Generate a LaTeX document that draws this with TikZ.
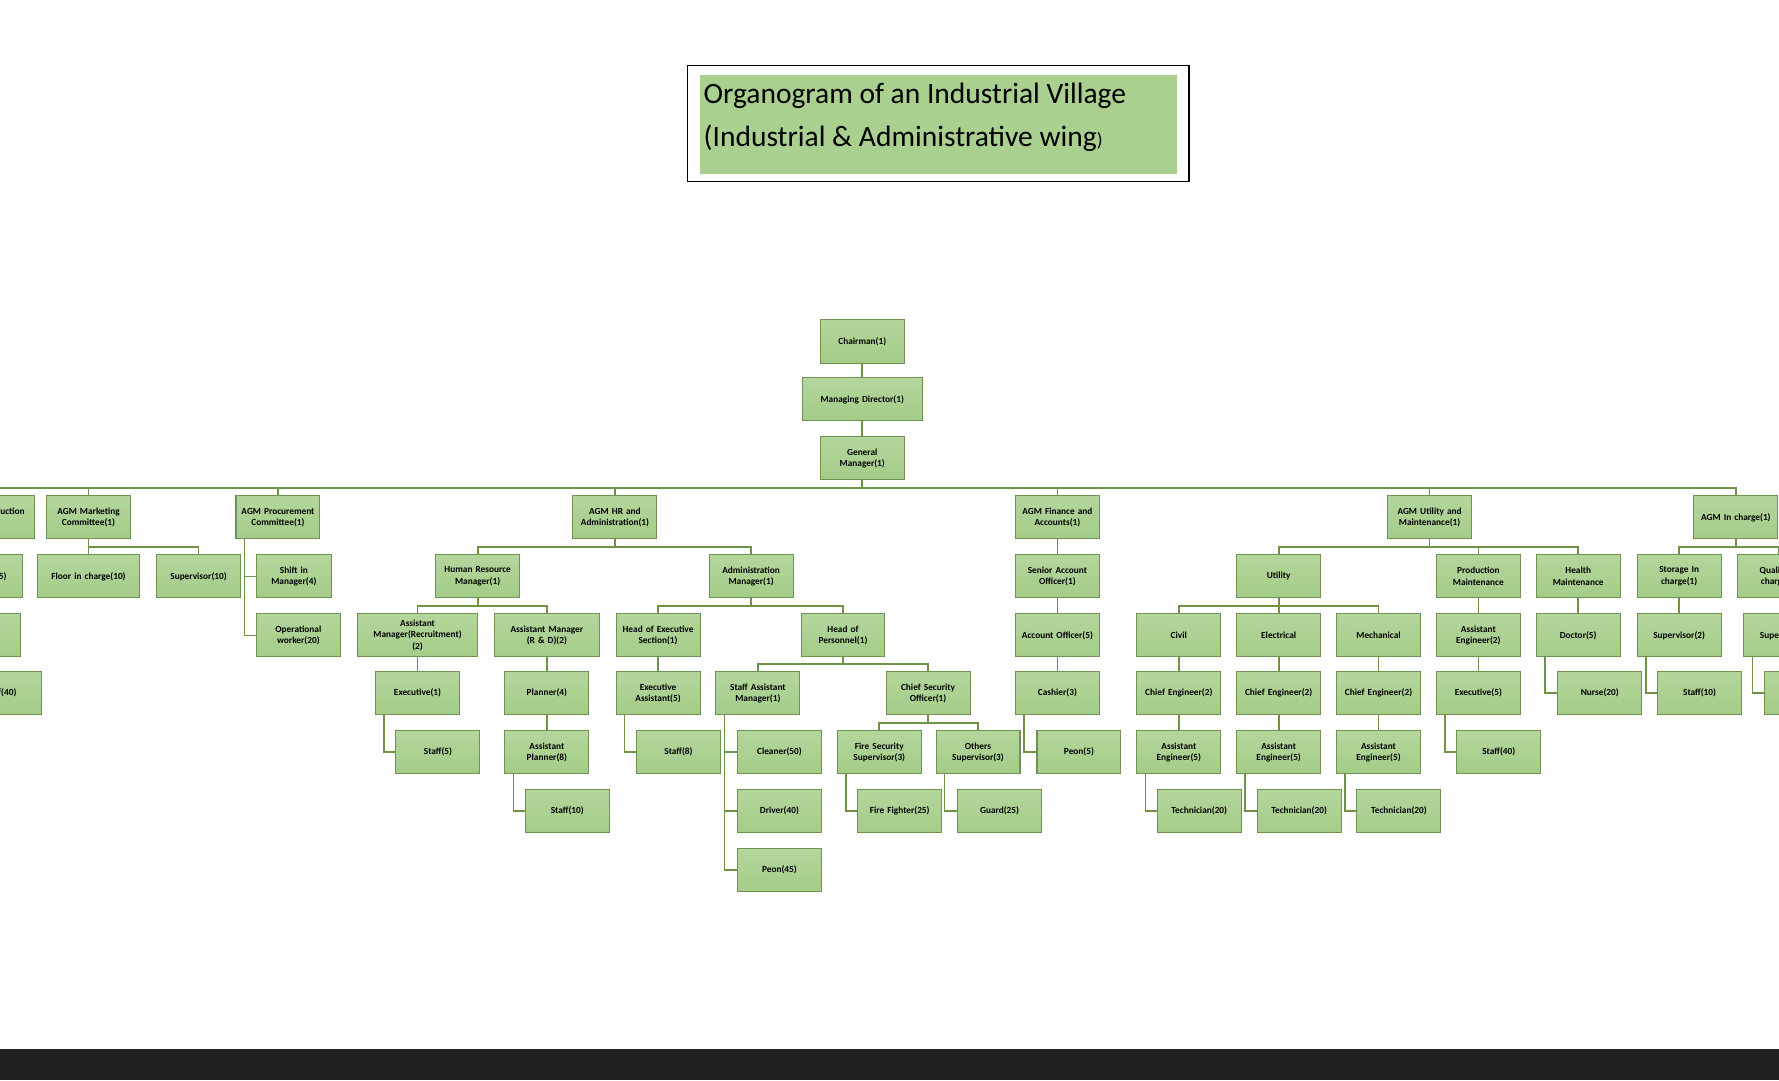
\documentclass[tikz,border=0pt]{standalone}
\usepackage{fontspec}
\setmainfont{Carlito}
\usetikzlibrary{calc}
\definecolor{boxfill}{RGB}{164,204,136}
\definecolor{boxdraw}{RGB}{112,146,82}
\definecolor{lncol}{RGB}{112,146,70}
\definecolor{band}{RGB}{32,32,32}
\tikzset{
 box/.style={draw=boxdraw,line width=0.9pt,top color={rgb,255:red,180;green,214;blue,156},bottom color=boxfill,minimum height=38pt,inner sep=1pt,align=center,font=\bfseries\fontsize{8.2}{10}\selectfont,text=black},
 ln/.style={draw=lncol,line width=1.5pt}
}
\newcommand\bx[5]{\node[box,minimum width=#4pt,text width=#4pt-2pt] (#1) at (#2,#3) {#5};}
\newcommand\conn[2]{\draw[ln] (#1.south) |- ($(#1.south)!0.5!(#2.north)$) -| (#2.north);}
\newcommand\elb[2]{\draw[ln] ([xshift=8pt]#1.south west) |- (#2.west);}
\begin{document}
\begin{tikzpicture}[x=1pt,y=-1pt]
\clip (0,0) rectangle (1568,952);
\useasboundingbox (0,0) rectangle (1568,952);
\fill[white] (0,0) rectangle (1568,952);
\fill[band] (0,925) rectangle (1568,952);
% title
\node[draw=black,line width=1pt,minimum width=442pt,minimum height=102pt] (tframe) at (827,109) {};
\node[fill={rgb,255:red,169;green,208;blue,142},minimum width=420pt,minimum height=87pt,inner sep=0pt] (tbox) at (827,109.5) {};
\node[anchor=west,align=left,font=\fontsize{26}{38}\selectfont,inner sep=0pt] (title) at (620,103) {Organogram of an Industrial Village\\(Industrial \& Administrative wing{\fontsize{17}{17}\selectfont)}};
% top
\bx{ch}{760}{301}{74}{Chairman(1)}
\bx{md}{760}{352}{106}{Managing Director(1)}
\bx{gm}{760}{404}{74}{General\\Manager(1)}
\draw[ln] (ch) -- (md); \draw[ln] (md) -- (gm);
% AGMs
\bx{aprod}{-7}{456}{74}{AGM Production\\(1)}
\bx{amkt}{78}{456}{74}{AGM Marketing\\Committee(1)}
\bx{aproc}{245}{456}{74}{AGM Procurement\\Committee(1)}
\bx{ahr}{542}{456}{74}{AGM HR and\\Administration(1)}
\bx{afin}{932}{456}{74}{AGM Finance and\\Accounts(1)}
\bx{autil}{1260}{456}{74}{AGM Utility and\\Maintenance(1)}
\bx{ainc}{1530}{456}{74}{AGM In charge(1)}
\foreach \a in {aprod,amkt,aproc,ahr,afin,autil,ainc}{\conn{gm}{\a}}
% production (cut)
\bx{p1}{-17}{508}{74}{Supervisor(5)}
\bx{p2}{-19}{560}{74}{Assistant\\(5)}
\bx{p3}{0}{611}{74}{Staff(40)}
% marketing
\bx{floor}{78}{508}{90}{Floor in charge(10)}
\bx{msup}{175}{508}{74}{Supervisor(10)}
\conn{amkt}{msup}
\draw[ln] (amkt) -- (floor);
% procurement
\bx{shift}{259}{508}{66}{Shift in\\Manager(4)}
\bx{oper}{263}{560}{74}{Operational\\worker(20)}
\elb{aproc}{shift} \elb{aproc}{oper}
% HR
\bx{hrm}{421}{508}{74}{Human Resource\\Manager(1)}
\bx{adm}{662}{508}{74}{Administration\\Manager(1)}
\conn{ahr}{hrm} \conn{ahr}{adm}
\bx{amr}{368}{560}{106}{Assistant\\Manager(Recruitment)\\(2)}
\bx{amrd}{482}{560}{92}{Assistant Manager\\(R \& D)(2)}
\conn{hrm}{amr} \conn{hrm}{amrd}
\bx{exe1}{368}{611}{74}{Executive(1)}
\bx{st5}{386}{663}{74}{Staff(5)}
\draw[ln] (amr) -- (exe1); \elb{exe1}{st5}
\bx{pl4}{482}{611}{74}{Planner(4)}
\bx{apl}{482}{663}{74}{Assistant\\Planner(8)}
\bx{st10}{500}{715}{74}{Staff(10)}
\draw[ln] (amrd) -- (pl4); \draw[ln] (pl4) -- (apl); \elb{apl}{st10}
\bx{hes}{580}{560}{74}{Head of Executive\\Section(1)}
\bx{hop}{743}{560}{74}{Head of\\Personnel(1)}
\conn{adm}{hes} \conn{adm}{hop}
\bx{exa}{580}{611}{74}{Executive\\Assistant(5)}
\bx{st8}{598}{663}{74}{Staff(8)}
\draw[ln] (hes) -- (exa); \elb{exa}{st8}
\bx{sam}{668}{611}{74}{Staff Assistant\\Manager(1)}
\bx{cso}{818}{611}{74}{Chief Security\\Officer(1)}
\conn{hop}{sam} \conn{hop}{cso}
\bx{cln}{687}{663}{74}{Cleaner(50)}
\bx{drv}{687}{715}{74}{Driver(40)}
\bx{peon}{687}{767}{74}{Peon(45)}
\elb{sam}{cln} \elb{sam}{drv} \elb{sam}{peon}
\bx{fss}{775}{663}{74}{Fire Security\\Supervisor(3)}
\bx{oss}{862}{663}{74}{Others\\Supervisor(3)}
\conn{cso}{fss} \conn{cso}{oss}
\bx{ff}{793}{715}{74}{Fire Fighter(25)}
\bx{grd}{881}{715}{74}{Guard(25)}
\elb{fss}{ff} \elb{oss}{grd}
% finance
\bx{sao}{932}{508}{74}{Senior Account\\Officer(1)}
\bx{ao}{932}{560}{74}{Account Officer(5)}
\bx{cash}{932}{611}{74}{Cashier(3)}
\bx{peon5}{951}{663}{74}{Peon(5)}
\draw[ln] (afin) -- (sao); \draw[ln] (sao) -- (ao); \draw[ln] (ao) -- (cash); \elb{cash}{peon5}
% utility
\bx{util}{1127}{508}{74}{Utility}
\bx{pm}{1303}{508}{74}{Production\\Maintenance}
\bx{hm}{1391}{508}{74}{Health\\Maintenance}
\conn{autil}{util} \conn{autil}{pm} \conn{autil}{hm}
\foreach \n/\x/\t in {civ/1039/Civil,ele/1127/Electrical,mec/1215/Mechanical}{
 \bx{\n}{\x}{560}{74}{\t}
 \conn{util}{\n}
 \bx{\n ce}{\x}{611}{74}{Chief Engineer(2)}
 \bx{\n ae}{\x}{663}{74}{Assistant\\Engineer(5)}
 \bx{\n te}{\x+18}{715}{74}{Technician(20)}
 \draw[ln] (\n) -- (\n ce); \draw[ln] (\n ce) -- (\n ae); \elb{\n ae}{\n te}
}
\bx{pae}{1303}{560}{74}{Assistant\\Engineer(2)}
\bx{pex}{1303}{611}{74}{Executive(5)}
\bx{pst}{1321}{663}{74}{Staff(40)}
\draw[ln] (pm) -- (pae); \draw[ln] (pae) -- (pex); \elb{pex}{pst}
\bx{doc}{1391}{560}{74}{Doctor(5)}
\bx{nur}{1410}{611}{74}{Nurse(20)}
\draw[ln] (hm) -- (doc); \elb{doc}{nur}
% in charge
\bx{sic}{1480}{508}{74}{Storage In\\charge(1)}
\bx{qic}{1568}{508}{74}{Quality In\\charge(1)}
\conn{ainc}{sic} \conn{ainc}{qic}
\bx{ssup}{1480}{560}{74}{Supervisor(2)}
\bx{sst}{1498}{611}{74}{Staff(10)}
\draw[ln] (sic) -- (ssup); \elb{ssup}{sst}
\bx{qsup}{1574}{560}{74}{Supervisor(2)}
\bx{qst}{1592}{611}{74}{Staff(10)}
\draw[ln] (qic) -- (qsup); \elb{qsup}{qst}
\end{tikzpicture}
\end{document}
